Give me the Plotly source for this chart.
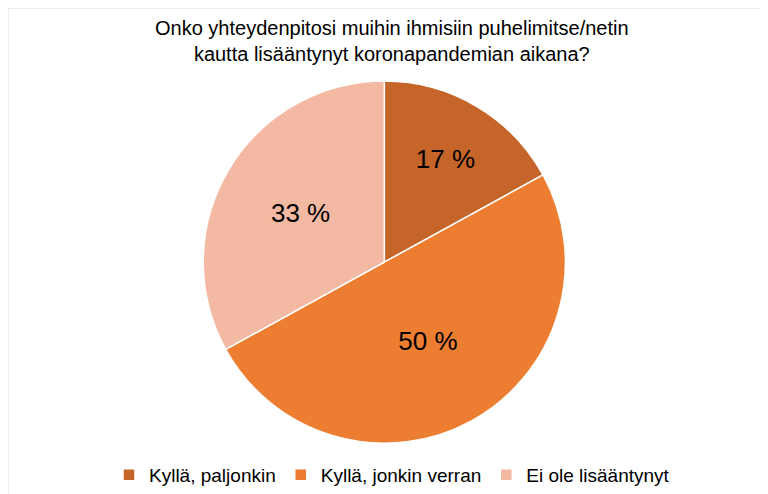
import plotly.graph_objects as go

labels = ["Kyllä, paljonkin", "Kyllä, jonkin verran", "Ei ole lisääntynyt"]
values = [17, 50, 33]
text_labels = ["17 %", "50 %", "33 %"]
colors = ["#C5652A", "#ED7D31", "#F4B9A3"]

fig = go.Figure(go.Pie(
    labels=labels, values=values, text=text_labels,
    textinfo="text", textposition="inside", insidetextorientation="horizontal",
    sort=False, direction="clockwise", rotation=0,
    marker=dict(colors=colors, line=dict(color="white", width=1.5)),
    textfont=dict(size=26, color="black", family="Liberation Sans"),
    domain=dict(x=[0.25, 0.73], y=[0.119, 0.852]),
))

fig.update_layout(
    width=768, height=494,
    margin=dict(l=0, r=0, t=0, b=0),
    paper_bgcolor="white",
    font=dict(family="Liberation Sans", color="black"),
    legend=dict(orientation="h", x=0.5, xanchor="center", y=0.055, yanchor="middle",
                font=dict(size=19), traceorder="normal"),
    annotations=[dict(text="Onko yhteydenpitosi muihin ihmisiin puhelimitse/netin<br>kautta lisääntynyt koronapandemian aikana?",
                      xref="paper", yref="paper", x=0.5, y=0.985, xanchor="center", yanchor="top",
                      showarrow=False, font=dict(size=20))],
    shapes=[dict(type="rect", xref="paper", yref="paper", x0=0, y0=0, x1=1, y1=1,
                 line=dict(color="#D9D9D9", width=1))],
)

fig.write_html("out.html")
